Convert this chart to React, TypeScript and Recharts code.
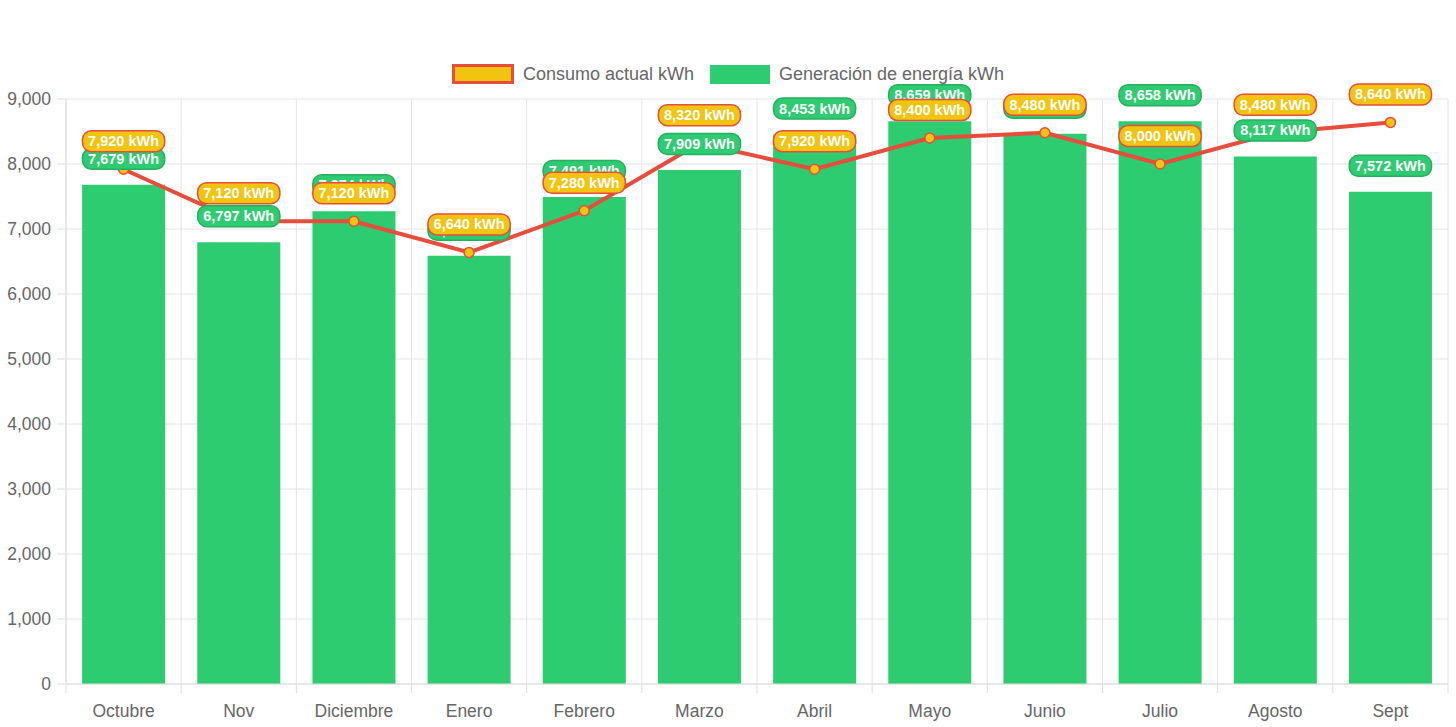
import {
  Bar,
  CartesianGrid,
  ComposedChart,
  LabelList,
  Legend,
  Line,
  XAxis,
  YAxis,
} from "recharts";

const months = ["Octubre", "Nov", "Diciembre", "Enero", "Febrero", "Marzo", "Abril", "Mayo", "Junio", "Julio", "Agosto", "Sept"];
const consumo = [7920, 7120, 7120, 6640, 7280, 8320, 7920, 8400, 8480, 8000, 8480, 8640];
const generacion = [7679, 6797, 7274, 6590, 7491, 7909, 8453, 8659, 8465, 8658, 8117, 7572];
const yTicks = [0, 1000, 2000, 3000, 4000, 5000, 6000, 7000, 8000, 9000];

const data = months.map((month, i) => ({ month, consumo: consumo[i], generacion: generacion[i] }));

const W = 1456;
const H = 727;
const LEGEND_H = 24;
const M = { top: 99 - LEGEND_H, right: 8, left: 0, bottom: 0 };
const Y_W = 66;
const STEP = (W - M.left - M.right - Y_W) / months.length;

const GREEN = "#2ecc71";
const GREEN_DARK = "#27ae60";
const YELLOW = "#f1c40f";
const RED = "#e74c3c";
const FONT = "Arial, 'Liberation Sans', sans-serif";

const fmt = (v: number) => v.toLocaleString("en-US") + " kWh";

function makeBadge(fill: string, stroke: string, lift: number) {
  return (props: any) => {
    const { x, y, value } = props;
    if (value == null) return null;
    const text = fmt(value);
    const w = text.length * 7.8 + 12;
    const h = 21;
    const cy = y - lift;
    return (
      <g>
        <rect x={x - w / 2} y={cy - h / 2} width={w} height={h} rx={9} fill={fill} stroke={stroke} strokeWidth={1.5} />
        <text x={x} y={cy + 5} textAnchor="middle" fill="#fff" fontSize={14.5} fontWeight="bold" fontFamily={FONT}>
          {text}
        </text>
      </g>
    );
  };
}

function XTick(props: any) {
  const { x, y, payload } = props;
  return (
    <g>
      <line x1={x - STEP / 2} x2={x - STEP / 2} y1={y} y2={y + 9} stroke="#ddd" />
      {payload.index === months.length - 1 && (
        <line x1={x + STEP / 2} x2={x + STEP / 2} y1={y} y2={y + 9} stroke="#ddd" />
      )}
      <text x={x} y={y + 33} textAnchor="middle" fill="#666" fontSize={17.5} fontFamily={FONT}>
        {payload.value}
      </text>
    </g>
  );
}

function LegendBox() {
  return (
    <div style={{ display: "flex", justifyContent: "center", alignItems: "center", fontFamily: FONT, fontSize: 18, color: "#666", height: LEGEND_H }}>
      <span style={{ width: 56, height: 14, background: YELLOW, border: `3px solid ${RED}`, marginRight: 9 }} />
      <span style={{ marginRight: 16 }}>Consumo actual kWh</span>
      <span style={{ width: 58, height: 17, background: GREEN, border: `1px solid ${GREEN}`, marginRight: 9 }} />
      <span>Generación de energía kWh</span>
    </div>
  );
}

export default function App() {
  return (
    <div style={{ width: W, height: H, background: "#fff" }}>
      <style>{`body{margin:0}`}</style>
      <ComposedChart width={W} height={H} data={data} margin={M} barCategoryGap="14%">
        <CartesianGrid
          stroke="#e4e4e4"
          verticalCoordinatesGenerator={({ offset }: any) =>
            months.map((_, i) => offset.left + i * (offset.width / months.length)).concat(offset.left + offset.width)
          }
        />
        <XAxis
          dataKey="month"
          height={43}
          tickSize={0}
          tickMargin={0}
          tick={<XTick />}
          tickLine={false}
          axisLine={{ stroke: "#ddd" }}
          interval={0}
        />
        <YAxis
          width={Y_W}
          domain={[0, 9000]}
          ticks={yTicks}
          tickFormatter={(v: number) => v.toLocaleString("en-US")}
          tick={{ fill: "#666", fontSize: 17.5, fontFamily: FONT }}
          tickSize={9}
          tickMargin={6}
          tickLine={{ stroke: "#ddd" }}
          axisLine={{ stroke: "#ddd" }}
        />
        <Legend verticalAlign="top" content={<LegendBox />} wrapperStyle={{ top: 62, left: 0, width: W, height: LEGEND_H }} />
        <Bar dataKey="generacion" name="Generación de energía kWh" fill={GREEN} isAnimationActive={false} />
        <Line
          dataKey="consumo"
          name="Consumo actual kWh"
          stroke={RED}
          strokeWidth={4}
          dot={{ r: 5, fill: YELLOW, stroke: RED, strokeWidth: 1.5 }}
          activeDot={false}
          isAnimationActive={false}
        />
        <Line dataKey="generacion" stroke="none" dot={false} activeDot={false} legendType="none" isAnimationActive={false}>
          <LabelList dataKey="generacion" content={makeBadge(GREEN, GREEN_DARK, 26)} />
        </Line>
        <Line dataKey="consumo" stroke="none" dot={false} activeDot={false} legendType="none" isAnimationActive={false}>
          <LabelList dataKey="consumo" content={makeBadge(YELLOW, RED, 28)} />
        </Line>
      </ComposedChart>
    </div>
  );
}
